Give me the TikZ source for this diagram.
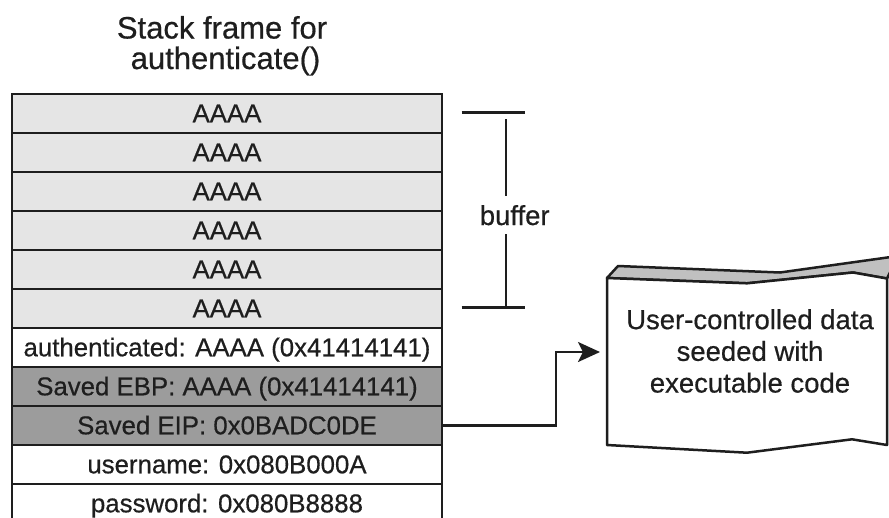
\documentclass[tikz,border=0pt]{standalone}
\usepackage{fontspec}
\setmainfont{Liberation Sans}[FakeBold=0.5]
\usetikzlibrary{arrows.meta}
\definecolor{lightrow}{HTML}{E5E5E5}
\definecolor{darkrow}{HTML}{9C9C9C}
\definecolor{topface}{HTML}{C0C0C0}
\definecolor{ink}{HTML}{1E1E1E}
\begin{document}
\begin{tikzpicture}[x=1pt,y=-1pt,
  rowbox/.style={draw=ink, line width=2.5pt, minimum width=430pt, minimum height=39pt,
    inner sep=0pt, outer sep=0pt, text height=20pt, text depth=2.4pt,
    font=\fontsize{25.8}{28}\selectfont, text=ink},
  bufrow/.style={rowbox, fill=lightrow},
  regrow/.style={rowbox, fill=darkrow},
  plainrow/.style={rowbox, fill=white},
  titletext/.style={font=\fontsize{31}{31}\selectfont, text=ink, inner sep=0pt, anchor=base},
  boxtext/.style={font=\fontsize{27.5}{31.7}\selectfont, text=ink, align=center, inner sep=0pt},
  wire/.style={draw=ink, line width=2.5pt},
]
\clip (0,0) rectangle (889,517);
\fill[white] (0,0) rectangle (889,517);

% title
\node[titletext] (title1) at (222,38.5) {Stack frame for};
\node[titletext] (title2) at (225.5,69) {authenticate()};

% stack rows
\node[bufrow]   (r1)  at (227,113.5) {AAAA};
\node[bufrow]   (r2)  at (227,152.5) {AAAA};
\node[bufrow]   (r3)  at (227,191.5) {AAAA};
\node[bufrow]   (r4)  at (227,230.5) {AAAA};
\node[bufrow]   (r5)  at (227,269.5) {AAAA};
\node[bufrow]   (r6)  at (227,308.5) {AAAA};
\node[plainrow] (r7)  at (227,347.5) {authenticated: AAAA (0x41414141)};
\node[regrow]   (r8)  at (227,386.5) {Saved EBP: AAAA (0x41414141)};
\node[regrow]   (r9)  at (227,425.5) {Saved EIP: 0x0BADC0DE};
\node[plainrow] (r10) at (227,464.5) {username: 0x080B000A};
\node[plainrow] (r11) at (227,503.5) {password: 0x080B8888};

% buffer bracket
\coordinate (bt1) at (461.7,112.7);
\coordinate (bt2) at (525,112.7);
\coordinate (bv1) at (506,119);
\coordinate (bv2) at (506,196);
\coordinate (bv3) at (506,234);
\coordinate (bv4) at (506,307.3);
\coordinate (bb1) at (461.7,307.3);
\coordinate (bb2) at (525,307.3);
\draw[wire] (bt1) -- (bt2);
\draw[wire] (bv1) -- (bv2);
\draw[wire] (bv3) -- (bv4);
\draw[wire] (bb1) -- (bb2);
\node[font=\fontsize{27.5}{30}\selectfont, text=ink, inner sep=0pt, anchor=base] (buf) at (514.7,225) {buffer};

% user data box (3D wavy sheet)
\filldraw[fill=topface, draw=ink, line width=2.5pt, line join=round]
  (607,278) -- (618,266) -- (780,272.5) -- (898,256) -- (887,278.5) -- (853,272.5) -- (747,283.3) -- cycle;
\filldraw[fill=white, draw=ink, line width=2.5pt, line join=round]
  (607,278) -- (747,283.3) -- (853,272.5) -- (887,278.5) -- (887,445) -- (852,439.3) -- (747,452.7) -- (607,445) -- cycle;
\node[boxtext] (box) at (750,351) {User-controlled data\\seeded with\\executable code};

% arrow from saved EIP to the box
\coordinate (abend) at (556,352);
\coordinate (atip) at (600,352);
\draw[wire, -{Stealth[length=22pt,width=20pt,inset=5pt]}] (r9.east) -| (abend) -- (atip);
\end{tikzpicture}
\end{document}
